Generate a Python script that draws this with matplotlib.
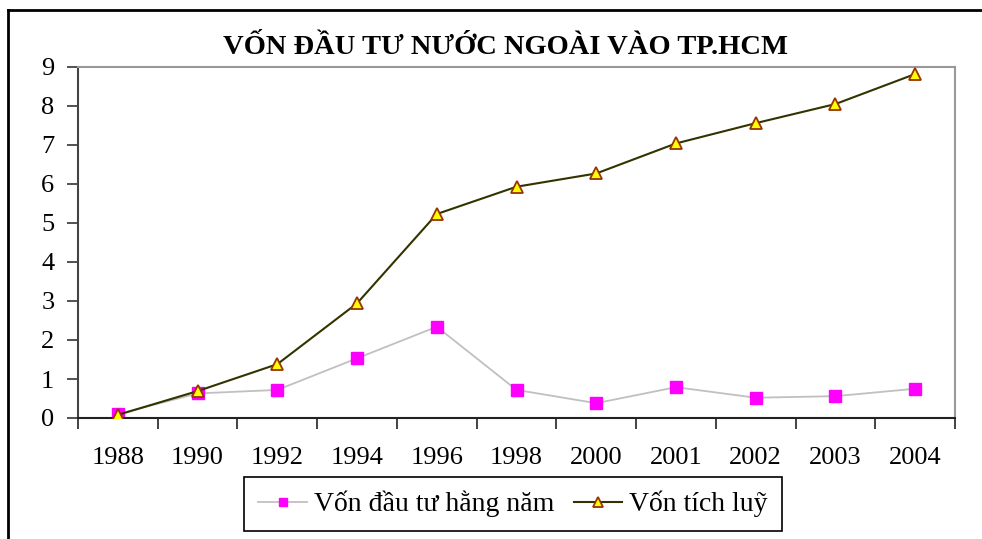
"""Foreign investment capital into HCMC - annual and cumulative"""

import matplotlib.pyplot as plt
from matplotlib.lines import Line2D

years = ["1988", "1990", "1992", "1994", "1996", "1998",
         "2000", "2001", "2002", "2003", "2004"]
annual = [0.10, 0.63, 0.72, 1.53, 2.34, 0.72, 0.38, 0.79, 0.52, 0.56, 0.75]
cumulative = [0.08, 0.69, 1.38, 2.94, 5.23, 5.93, 6.27, 7.04, 7.56, 8.05, 8.82]

plt.rcParams["font.family"] = ["Liberation Serif", "DejaVu Serif"]

fig = plt.figure(figsize=(9.82, 5.39), dpi=100)
ax = fig.add_axes([78 / 982, 1 - 418 / 539, (955 - 78) / 982, (418 - 67) / 539])

x = list(range(len(years)))
ax.plot(x, annual, color="#c0c0c0", lw=1.3, marker="s", ms=8,
        mfc="#ff00ff", mec="#ff00ff", label="Vốn đầu tư hằng năm", zorder=2)
ax.plot(x, cumulative, color="#333300", lw=1.5, marker="^", ms=9,
        mfc="#ffff00", mec="#993300", mew=1.3, label="Vốn tích luỹ", zorder=3)

ax.set_xlim(-0.5, len(years) - 0.5)
ax.set_ylim(0, 9)
ax.set_yticks(range(10))
ax.set_xticks(x)
ax.set_xticklabels(years)
ax.set_xticks([i - 0.5 for i in range(len(years) + 1)], minor=True)
ax.tick_params(axis="x", which="major", length=0, pad=21, labelsize=19)
ax.tick_params(axis="x", which="minor", length=8, width=1.2, direction="out", color="#222222")
ax.tick_params(axis="y", length=8, width=1.2, direction="out", pad=9, labelsize=19, color="#333333")

for side in ["top", "right"]:
    ax.spines[side].set_color("#999999")
    ax.spines[side].set_linewidth(1.5)
ax.spines["left"].set_color("#444444")
ax.spines["left"].set_linewidth(1.5)
ax.spines["bottom"].set_color("#222222")
ax.spines["bottom"].set_linewidth(1.5)

fig.text(0.515, 1 - 48 / 539, "VỐN ĐẦU TƯ NƯỚC NGOÀI VÀO TP.HCM",
         ha="center", va="center", fontsize=20.5, fontweight="bold")

leg = fig.legend(loc="center", bbox_to_anchor=(513 / 982, 1 - 504 / 539), ncol=2,
                 fontsize=20, frameon=True, fancybox=False, framealpha=1,
                 edgecolor="black", handlelength=1.75, columnspacing=0.7,
                 handletextpad=0.25, borderpad=0.5, borderaxespad=0,
                 markerscale=0.8)
leg.get_frame().set_linewidth(1.2)

# outer chart border (only top and left edges visible)
fig.add_artist(Line2D([8 / 982, 1], [1 - 10 / 539, 1 - 10 / 539],
                      transform=fig.transFigure, color="black", lw=2))
fig.add_artist(Line2D([8 / 982, 8 / 982], [0, 1 - 10 / 539],
                      transform=fig.transFigure, color="black", lw=2))

fig.savefig("out.png", dpi=100)
